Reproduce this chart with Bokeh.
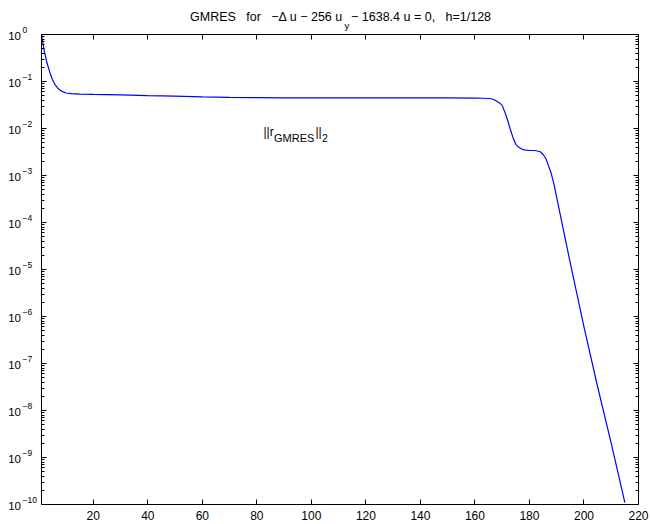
from bokeh.plotting import figure
from bokeh.models import (FixedTicker, Label, LinearAxis, Range1d,
                          CustomJSTickFormatter)
from bokeh.embed import file_html
from bokeh.resources import INLINE
import math

# ---- data ----
iterations = [1, 2, 3, 4, 5, 6, 7, 8, 9, 10, 12, 15, 20, 30, 40, 50, 60, 70, 80, 90,
              100, 110, 120, 130, 140, 150, 160, 163, 165, 166, 167, 168, 169, 170,
              171, 172, 173, 174, 175, 176, 177, 178, 180, 182, 184, 185, 186, 187,
              188, 189, 190, 192, 195, 200, 205, 210, 215]
residual_norm = [1.0, 0.45, 0.25, 0.16, 0.11, 0.085, 0.072, 0.064, 0.060, 0.057,
                 0.055, 0.054, 0.053, 0.052, 0.050, 0.049, 0.047, 0.046, 0.0455, 0.045,
                 0.045, 0.045, 0.045, 0.045, 0.045, 0.0448, 0.0445, 0.044, 0.0435, 0.043,
                 0.041, 0.038, 0.035, 0.031, 0.022, 0.015, 0.0095, 0.0063, 0.0046, 0.0040,
                 0.0037, 0.0035, 0.0034, 0.0034, 0.0032, 0.0028, 0.0023, 0.0016, 0.0011,
                 6.5e-4, 3.4e-4, 9.3e-5, 1.35e-5, 6.0e-7, 3.2e-8, 2.0e-9, 1.1e-10]

x_min, x_max = 1, 220
y_min, y_max = 1e-10, 1.0
x_tick_values = [20, 40, 60, 80, 100, 120, 140, 160, 180, 200, 220]
y_tick_exponents = [0, -1, -2, -3, -4, -5, -6, -7, -8, -9, -10]
y_tick_exponent_labels = ["0", "\u22121", "\u22122", "\u22123", "\u22124", "\u22125",
                          "\u22126", "\u22127", "\u22128", "\u22129", "\u221210"]
SP3 = "\u00a0\u00a0\u00a0"
title_parts = ["GMRES" + SP3 + "for" + SP3 + "\u2212\u0394 u \u2212 256 u", "y",
               "\u2212 1638.4 u = 0," + SP3 + "h=1/128"]
legend_parts = ["||r", "GMRES", "||", "2"]

FONT = "Liberation Sans"
W, H = 651, 524
FL, FR, FT, FB = 41, 638, 34, 504  # axes box edges in pixels

# The plot frame covers the whole canvas; the axes box is drawn by fixed-location
# axes, so that all texts (title, tick labels) lie inside the frame.
ppx = (FR - FL) / (x_max - x_min)
ppd = (FB - FT) / (math.log10(y_max) - math.log10(y_min))
xr = Range1d(x_min - FL / ppx, x_max + (W - FR) / ppx)
yr = Range1d(10 ** (math.log10(y_min) - (H - FB) / ppd),
             10 ** (math.log10(y_max) + FT / ppd))

p = figure(width=W, height=H, x_range=xr, y_range=yr, y_axis_type="log",
           output_backend="svg", toolbar_location=None, title_location=None)
p.min_border = 0
p.min_border_left = p.min_border_right = p.min_border_top = p.min_border_bottom = 0
p.background_fill_color = "white"
p.border_fill_color = "white"
p.outline_line_color = None
p.grid.visible = False

yt = FixedTicker(ticks=[10.0 ** k for k in y_tick_exponents],
                 minor_ticks=[m * 10.0 ** k for k in range(-10, 0) for m in range(2, 10)])
xt = FixedTicker(ticks=x_tick_values, minor_ticks=[])

p.add_layout(LinearAxis(), "above")
p.add_layout(LinearAxis(), "right")   # ticks only; positions follow the log y scale

blank = CustomJSTickFormatter(code="return ''")

bottom, top = p.below[0], p.above[0]
left, right = p.left[0], p.right[0]
bottom.fixed_location = y_min
top.fixed_location = y_max
left.fixed_location = x_min
right.fixed_location = x_max

for ax in p.xaxis:
    ax.ticker = xt
    ax.bounds = (x_min, x_max)
    ax.minor_tick_line_color = None
for ax in p.yaxis:
    ax.ticker = yt
    ax.bounds = (y_min, y_max)
    ax.minor_tick_in = 3
    ax.minor_tick_out = 0
    ax.minor_tick_line_color = "black"
for ax in p.xaxis + p.yaxis:
    ax.axis_line_color = "black"
    ax.axis_line_width = 1
    ax.major_tick_in = 5
    ax.major_tick_out = 0
    ax.major_tick_line_color = "black"
    ax.major_label_text_font = FONT
    ax.major_label_text_color = "black"
    ax.major_label_text_font_size = "12px"
    ax.major_label_standoff = 0

for ax in (top, left, right):
    ax.formatter = blank
bottom.major_label_standoff = 6

p.line(iterations, residual_norm, line_color="#0000ff", line_width=1.2)


def lab(text, sx, sy, size="12px", align="left", baseline="alphabetic"):
    # anchored at the axes box's top-left data corner, offset in pixels
    p.add_layout(Label(x=x_min, y=y_max, x_units="data", y_units="data",
                       x_offset=sx - FL, y_offset=FT - sy, text=text,
                       text_font=FONT, text_font_size=size, text_color="black",
                       text_align=align, text_baseline=baseline))


# y tick labels 10^k
for k, e in zip(y_tick_exponents, y_tick_exponent_labels):
    p.add_layout(Label(x=x_min, y=10.0 ** k, x_offset=20.5 - FL, y_offset=-1, text="10",
                       text_font=FONT, text_font_size="11.5px", text_color="black",
                       text_align="right", text_baseline="middle"))
    p.add_layout(Label(x=x_min, y=10.0 ** k, x_offset=22 - FL, y_offset=4.5, text=e,
                       text_font=FONT, text_font_size="8.5px", text_color="black",
                       text_align="left", text_baseline="middle"))

# title (centred on the axes box)
lab(title_parts[0], 342.4, 16.7, size="12.5px", align="right")
lab(title_parts[1], 344, 25, size="9.5px")
lab(title_parts[2], 350.5, 16.7, size="12.5px")

# in-plot label ||r_GMRES||_2
lab(legend_parts[0], 263, 131)
lab(legend_parts[1], 273.5, 137, size="11px")
lab(legend_parts[2], 315, 131)
lab(legend_parts[3], 321.5, 137, size="10.5px")

open("out.html", "w").write(file_html(p, INLINE))
